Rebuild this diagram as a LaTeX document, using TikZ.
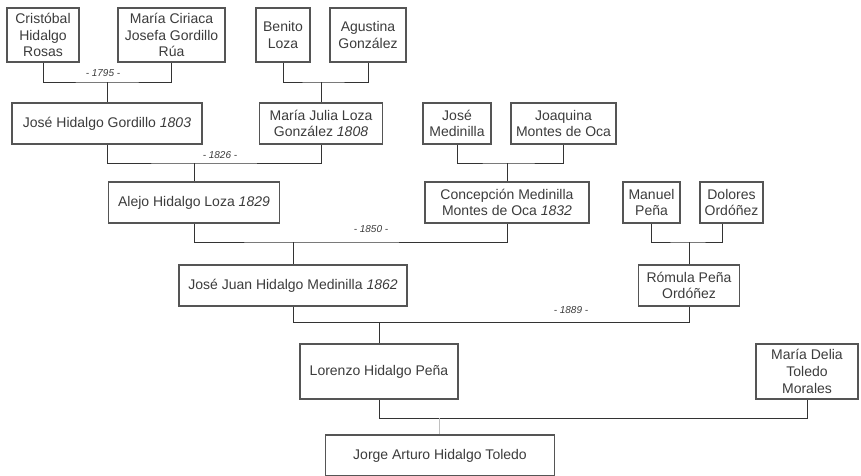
\documentclass[tikz,border=0pt]{standalone}
\usepackage{fontspec}
\setmainfont{Liberation Sans}
\definecolor{boxc}{HTML}{555555}
\definecolor{linec}{HTML}{333333}
\definecolor{txt}{HTML}{3C3C3C}
\definecolor{lightc}{HTML}{C0C0C0}
\begin{document}
\begin{tikzpicture}[x=1pt,y=-1pt,
  box/.style={draw=boxc, line width=1.2pt, fill=white, text=txt, align=center, inner sep=0pt, font=\fontsize{14pt}{16.7pt}\selectfont},
  conn/.style={draw=linec, line width=1pt},
  lightconn/.style={draw=lightc, line width=1pt},
  yr/.style={text=txt, font=\fontsize{10pt}{12pt}\selectfont\itshape}]
\useasboundingbox[fill=white] (0,0) rectangle (861,475);

% generation 1
\node[box, minimum width=72pt, minimum height=54pt] (c1) at (43,35) {Cristóbal\\Hidalgo\\Rosas};
\node[box, minimum width=107pt, minimum height=54pt] (c2) at (171.5,35) {María Ciriaca\\Josefa Gordillo\\Rúa};
\node[box, minimum width=54pt, minimum height=54pt] (b1) at (283,35) {Benito\\Loza};
\node[box, minimum width=76pt, minimum height=54pt] (b2) at (368,35) {Agustina\\González};

% generation 2
\node[box, minimum width=190pt, minimum height=41pt] (j1) at (107,123.5) {José Hidalgo Gordillo {\itshape 1803}};
\node[box, minimum width=123pt, minimum height=41pt] (m1) at (321,123.5) {María Julia Loza\\González {\itshape 1808}};
\node[box, minimum width=68pt, minimum height=41pt] (jm1) at (457,123.5) {José\\Medinilla};
\node[box, minimum width=105pt, minimum height=41pt] (jm2) at (563.5,123.5) {Joaquina\\Montes de Oca};

% generation 3
\node[box, minimum width=171pt, minimum height=41pt] (a1) at (194,202.5) {Alejo Hidalgo Loza {\itshape 1829}};
\node[box, minimum width=164pt, minimum height=41pt] (co) at (507,202.5) {Concepción Medinilla\\Montes de Oca {\itshape 1832}};
\node[box, minimum width=57pt, minimum height=41pt] (mp) at (651.5,202.5) {Manuel\\Peña};
\node[box, minimum width=63pt, minimum height=41pt] (dor) at (731.5,202.5) {Dolores\\Ordóñez};

% generation 4
\node[box, minimum width=228pt, minimum height=41pt] (jj) at (293,285.5) {José Juan Hidalgo Medinilla {\itshape 1862}};
\node[box, minimum width=101pt, minimum height=41pt] (r) at (689,285.5) {Rómula Peña\\Ordóñez};

% generation 5
\node[box, minimum width=158pt, minimum height=55pt] (lo) at (379,371.5) {Lorenzo Hidalgo Peña};
\node[box, minimum width=102pt, minimum height=55pt] (md) at (807,371.5) {María Delia\\Toledo\\Morales};

% generation 6
\node[box, minimum width=229pt, minimum height=41pt] (jo) at (440,455.5) {Jorge Arturo Hidalgo Toledo};

% junctions
\coordinate (k1) at (107,82);
\coordinate (k2) at (321,82);
\coordinate (k3) at (194,163);
\coordinate (k4) at (507,163);
\coordinate (k5) at (293,242);
\coordinate (k6) at (689,242);
\coordinate (k7) at (379,322);
\coordinate (k8) at (439,418);

% connectors
\draw[conn] (c1.south) |- (k1) -| (c2.south);
\draw[conn] (k1) -- (j1.north);
\draw[conn] (b1.south) |- (k2) -| (b2.south);
\draw[conn] (k2) -- (m1.north);
\draw[conn] (j1.south) |- (k3) -| (m1.south);
\draw[conn] (k3) -- (a1.north);
\draw[conn] (jm1.south) |- (k4) -| (jm2.south);
\draw[conn] (k4) -- (co.north);
\draw[conn] (a1.south) |- (k5) -| (co.south);
\draw[conn] (k5) -- (jj.north);
\draw[conn] (mp.south) |- (k6) -| ([xshift=-9.5pt]dor.south);
\draw[conn] (k6) -- (r.north);
\draw[conn] (jj.south) |- (k7) -| (r.south);
\draw[conn] (k7) -- (lo.north);
\draw[conn] (lo.south) |- (k8) -| (md.south);
\draw[lightconn] (k8) -- (k8 |- jo.north);

% years
\node[yr] (y1) at (103,73) {- 1795 -};
\node[yr] (y2) at (220,155) {- 1826 -};
\node[yr] (y3) at (371,229) {- 1850 -};
\node[yr] (y4) at (571,310) {- 1889 -};
\end{tikzpicture}
\end{document}
